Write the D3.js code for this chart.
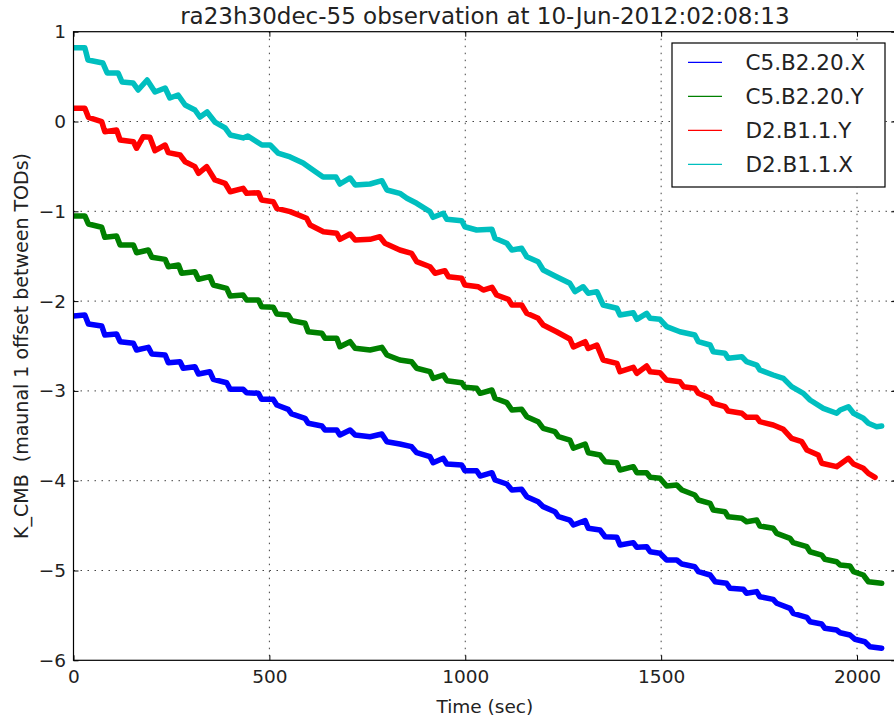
<!DOCTYPE html>
<html>
<head>
<meta charset="utf-8">
<script src="https://cdn.jsdelivr.net/npm/d3@7"></script>
<style>
  html, body { margin: 0; padding: 0; background: #fff; }
  svg { display: block; font-family: "DejaVu Sans", sans-serif; }
</style>
</head>
<body>
<svg id="chart"></svg>
<script>
// chart text
const title = "ra23h30dec-55 observation at 10-Jun-2012:02:08:13";
const xLabel = "Time (sec)";
const yLabel = "K_CMB  (maunal 1 offset between TODs)";
const xTicks = [0, 500, 1000, 1500, 2000];
const yTicks = [-6, -5, -4, -3, -2, -1, 0, 1];

const seriesNames = ["C5.B2.20.X", "C5.B2.20.Y", "D2.B1.1.Y", "D2.B1.1.X"];
const seriesColors = ["#0000ff", "#008000", "#ff0000", "#00bfbf"];

// C5.B2.20.X
const c5xTime = [0,29,38,72,80,110,119,153,161,191,200,234,242,272,280,310,319,348,357,391,400,433,442,472,480,510,519,548,557,591,599,634,642,672,680,706,719,757,787,800,833,863,876,910,918,944,953,991,999,1029,1038,1068,1076,1106,1119,1144,1157,1186,1199,1229,1238,1267,1276,1306,1314,1344,1357,1387,1395,1429,1438,1463,1472,1497,1514,1540,1553,1586,1595,1625,1638,1667,1676,1710,1718,1744,1752,1786,1795,1829,1837,1872,1880,1910,1918,1948,1957,1982,1995,2020,2033,2063];
const c5xK = [-2.166,-2.155,-2.255,-2.277,-2.378,-2.366,-2.452,-2.47,-2.545,-2.515,-2.589,-2.6,-2.686,-2.675,-2.748,-2.731,-2.812,-2.786,-2.871,-2.909,-2.982,-2.982,-3.02,-3.027,-3.094,-3.094,-3.157,-3.205,-3.257,-3.305,-3.361,-3.391,-3.435,-3.435,-3.491,-3.435,-3.491,-3.51,-3.48,-3.566,-3.591,-3.621,-3.688,-3.733,-3.8,-3.751,-3.814,-3.825,-3.889,-3.889,-3.948,-3.911,-3.992,-4.037,-4.104,-4.096,-4.178,-4.234,-4.289,-4.345,-4.401,-4.438,-4.493,-4.445,-4.53,-4.549,-4.624,-4.63,-4.716,-4.69,-4.742,-4.735,-4.791,-4.808,-4.883,-4.883,-4.928,-4.958,-5.013,-5.05,-5.125,-5.143,-5.198,-5.209,-5.254,-5.235,-5.292,-5.321,-5.365,-5.421,-5.477,-5.521,-5.57,-5.596,-5.644,-5.663,-5.693,-5.718,-5.766,-5.793,-5.849,-5.866];

// C5.B2.20.Y
const c5yTime = [0,29,38,72,80,110,119,153,161,191,200,234,242,268,276,310,319,348,357,391,400,433,442,472,480,510,519,548,557,591,599,634,642,672,680,706,719,757,787,800,833,863,876,910,918,944,953,991,999,1029,1038,1068,1076,1106,1119,1144,1157,1186,1199,1229,1238,1267,1276,1306,1314,1344,1357,1387,1395,1429,1438,1463,1472,1497,1514,1540,1553,1586,1595,1625,1633,1663,1671,1706,1718,1744,1752,1786,1795,1829,1837,1872,1880,1910,1918,1948,1957,1982,1991,2016,2029,2063];
const c5yK = [-1.052,-1.052,-1.141,-1.178,-1.29,-1.275,-1.375,-1.375,-1.461,-1.431,-1.512,-1.535,-1.617,-1.598,-1.69,-1.673,-1.757,-1.728,-1.821,-1.858,-1.943,-1.932,-1.988,-1.988,-2.062,-2.069,-2.144,-2.155,-2.218,-2.247,-2.341,-2.359,-2.414,-2.414,-2.508,-2.452,-2.526,-2.545,-2.515,-2.6,-2.656,-2.675,-2.748,-2.786,-2.86,-2.823,-2.886,-2.909,-2.96,-2.971,-3.027,-2.99,-3.082,-3.131,-3.213,-3.205,-3.287,-3.343,-3.417,-3.454,-3.51,-3.547,-3.639,-3.591,-3.688,-3.714,-3.788,-3.8,-3.881,-3.844,-3.911,-3.911,-3.962,-3.973,-4.059,-4.048,-4.104,-4.159,-4.215,-4.252,-4.326,-4.345,-4.401,-4.419,-4.457,-4.438,-4.505,-4.53,-4.586,-4.642,-4.69,-4.735,-4.791,-4.828,-4.875,-4.902,-4.939,-4.95,-5.013,-5.05,-5.125,-5.143];

// D2.B1.1.Y
const d2yTime = [0,29,38,72,80,110,119,153,161,178,195,208,234,242,272,285,310,319,340,361,387,400,433,442,472,480,510,519,553,595,604,638,672,680,706,719,757,782,795,833,863,876,910,923,948,957,991,999,1033,1046,1068,1080,1110,1119,1144,1157,1186,1199,1233,1267,1276,1306,1314,1336,1352,1387,1395,1429,1438,1463,1472,1497,1514,1548,1557,1586,1595,1625,1633,1663,1671,1706,1718,1744,1752,1786,1812,1833,1859,1872,1901,1910,1948,1978,1991,2016,2029,2046];
const d2yK = [0.147,0.147,0.047,-0.002,-0.114,-0.095,-0.206,-0.225,-0.298,-0.169,-0.176,-0.325,-0.262,-0.347,-0.373,-0.448,-0.503,-0.577,-0.503,-0.651,-0.688,-0.782,-0.744,-0.8,-0.793,-0.874,-0.893,-0.967,-1.004,-1.078,-1.153,-1.227,-1.245,-1.312,-1.253,-1.319,-1.312,-1.283,-1.356,-1.431,-1.468,-1.561,-1.617,-1.69,-1.661,-1.728,-1.746,-1.821,-1.84,-1.877,-1.846,-1.932,-1.98,-2.043,-2.043,-2.136,-2.192,-2.266,-2.341,-2.422,-2.511,-2.452,-2.528,-2.489,-2.656,-2.693,-2.786,-2.737,-2.804,-2.723,-2.786,-2.797,-2.879,-2.898,-2.953,-2.971,-3.027,-3.082,-3.138,-3.176,-3.224,-3.249,-3.294,-3.294,-3.343,-3.38,-3.428,-3.528,-3.566,-3.658,-3.714,-3.806,-3.844,-3.751,-3.814,-3.862,-3.918,-3.962];

// D2.B1.1.X
const d2xTime = [0,29,37,75,86,114,124,152,165,188,208,234,246,267,285,310,323,341,361,387,400,433,445,481,502,522,553,586,604,637,670,680,706,719,757,787,800,833,851,876,910,918,944,953,991,999,1029,1068,1076,1106,1119,1144,1157,1186,1199,1233,1267,1280,1301,1314,1336,1352,1387,1395,1429,1438,1463,1472,1497,1514,1548,1586,1595,1625,1633,1663,1671,1706,1718,1744,1752,1786,1812,1833,1863,1880,1914,1948,1957,1978,1991,2016,2029,2050,2063];
const d2xK = [0.82,0.82,0.685,0.651,0.54,0.54,0.44,0.429,0.351,0.462,0.328,0.373,0.262,0.295,0.184,0.128,0.05,0.106,-0.006,-0.072,-0.15,-0.183,-0.161,-0.262,-0.262,-0.351,-0.395,-0.462,-0.518,-0.618,-0.618,-0.696,-0.629,-0.707,-0.696,-0.659,-0.763,-0.8,-0.855,-0.911,-1.004,-1.067,-1.022,-1.089,-1.105,-1.172,-1.208,-1.2,-1.301,-1.356,-1.431,-1.412,-1.506,-1.561,-1.654,-1.728,-1.802,-1.895,-1.84,-1.913,-1.895,-2.043,-2.08,-2.155,-2.129,-2.203,-2.136,-2.192,-2.203,-2.285,-2.341,-2.378,-2.452,-2.489,-2.564,-2.581,-2.637,-2.619,-2.675,-2.712,-2.767,-2.823,-2.86,-2.953,-3.027,-3.101,-3.194,-3.249,-3.213,-3.176,-3.249,-3.305,-3.361,-3.399,-3.391];

const seriesTimes = [c5xTime, c5yTime, d2yTime, d2xTime];
const seriesValues = [c5xK, c5yK, d2yK, d2xK];

const width = 894, height = 721;
const margin = {top: 31.7, left: 73.5};
const plotW = 822.7, plotH = 628.6;

const svg = d3.select("#chart")
    .attr("width", width)
    .attr("height", height);

const x = d3.scaleLinear().domain([0, 2100]).range([0, plotW]);
const y = d3.scaleLinear().domain([-6, 1]).range([plotH, 0]);

const g = svg.append("g")
    .attr("transform", "translate(" + margin.left + "," + margin.top + ")");

g.append("clipPath").attr("id", "plotclip")
    .append("rect").attr("width", plotW).attr("height", plotH);

// grid
const grid = g.append("g").attr("class", "grid")
    .attr("stroke", "#444").attr("stroke-width", 1).attr("stroke-dasharray", "1.5,5.5");
grid.selectAll("line.gx").data(xTicks.slice(1)).enter().append("line")
    .attr("x1", d => x(d)).attr("x2", d => x(d))
    .attr("y1", 0).attr("y2", plotH);
grid.selectAll("line.gy").data(yTicks.slice(1, -1)).enter().append("line")
    .attr("x1", 0).attr("x2", plotW)
    .attr("y1", d => y(d)).attr("y2", d => y(d));

// series
const line = d3.line().x(d => x(d[0])).y(d => y(d[1]));
const lines = g.append("g").attr("clip-path", "url(#plotclip)");
seriesNames.forEach(function(name, i) {
    const pts = d3.zip(seriesTimes[i], seriesValues[i]);
    lines.append("path")
        .datum(pts)
        .attr("fill", "none")
        .attr("stroke", seriesColors[i])
        .attr("stroke-width", 5.5)
        .attr("stroke-linejoin", "round")
        .attr("stroke-linecap", "round")
        .attr("d", line);
});

// axes, ticks pointing inward like classic matplotlib
const fmt = d3.format("d");
function styleAxis(sel) {
    sel.selectAll(".domain").remove();
    sel.selectAll(".tick line").attr("stroke", "#000");
    sel.selectAll(".tick text").attr("fill", "#222")
        .style("font-size", "18.5px")
        .style("font-family", "DejaVu Sans");
}

g.append("g")
    .attr("transform", "translate(0," + plotH + ")")
    .call(d3.axisBottom(x).tickValues(xTicks).tickFormat(fmt).tickSizeInner(-5).tickSizeOuter(0).tickPadding(10))
    .call(styleAxis);

g.append("g")
    .call(d3.axisLeft(y).tickValues(yTicks).tickFormat(fmt).tickSizeInner(-5).tickSizeOuter(0).tickPadding(7.5))
    .call(styleAxis);

g.append("g")
    .call(d3.axisTop(x).tickValues(xTicks).tickSizeInner(-5).tickSizeOuter(0).tickFormat(""))
    .call(styleAxis);

g.append("g")
    .attr("transform", "translate(" + plotW + ",0)")
    .call(d3.axisRight(y).tickValues(yTicks).tickSizeInner(-5).tickSizeOuter(0).tickFormat(""))
    .call(styleAxis);

// frame
g.append("rect")
    .attr("width", plotW).attr("height", plotH)
    .attr("fill", "none").attr("stroke", "#000").attr("stroke-width", 1.2);

// labels
svg.append("text")
    .attr("x", margin.left + plotW / 2)
    .attr("y", 24)
    .attr("text-anchor", "middle")
    .attr("fill", "#222")
    .style("font-size", "23px")
    .text(title);

svg.append("text")
    .attr("x", margin.left + plotW / 2)
    .attr("y", 713)
    .attr("text-anchor", "middle")
    .attr("fill", "#222")
    .style("font-size", "18.5px")
    .text(xLabel);

svg.append("text")
    .attr("transform", "translate(28," + (margin.top + plotH / 2) + ") rotate(-90)")
    .attr("text-anchor", "middle")
    .attr("fill", "#222")
    .style("font-size", "19px")
    .style("white-space", "pre")
    .text(yLabel);

// legend
const legend = svg.append("g").attr("transform", "translate(672,43)");
legend.append("rect")
    .attr("width", 213).attr("height", 144)
    .attr("fill", "#fff").attr("stroke", "#000").attr("stroke-width", 1.2);
const item = legend.selectAll("g.item").data(seriesNames).enter().append("g")
    .attr("transform", (d, i) => "translate(0," + (19.3 + i * 34) + ")");
item.append("line")
    .attr("x1", 16).attr("x2", 50)
    .attr("stroke", (d, i) => seriesColors[i])
    .attr("stroke-width", 1.2);
item.append("text")
    .attr("x", 73.5)
    .attr("dy", "0.36em")
    .attr("fill", "#222")
    .style("font-size", "21.5px")
    .text(d => d);
</script>
</body>
</html>
